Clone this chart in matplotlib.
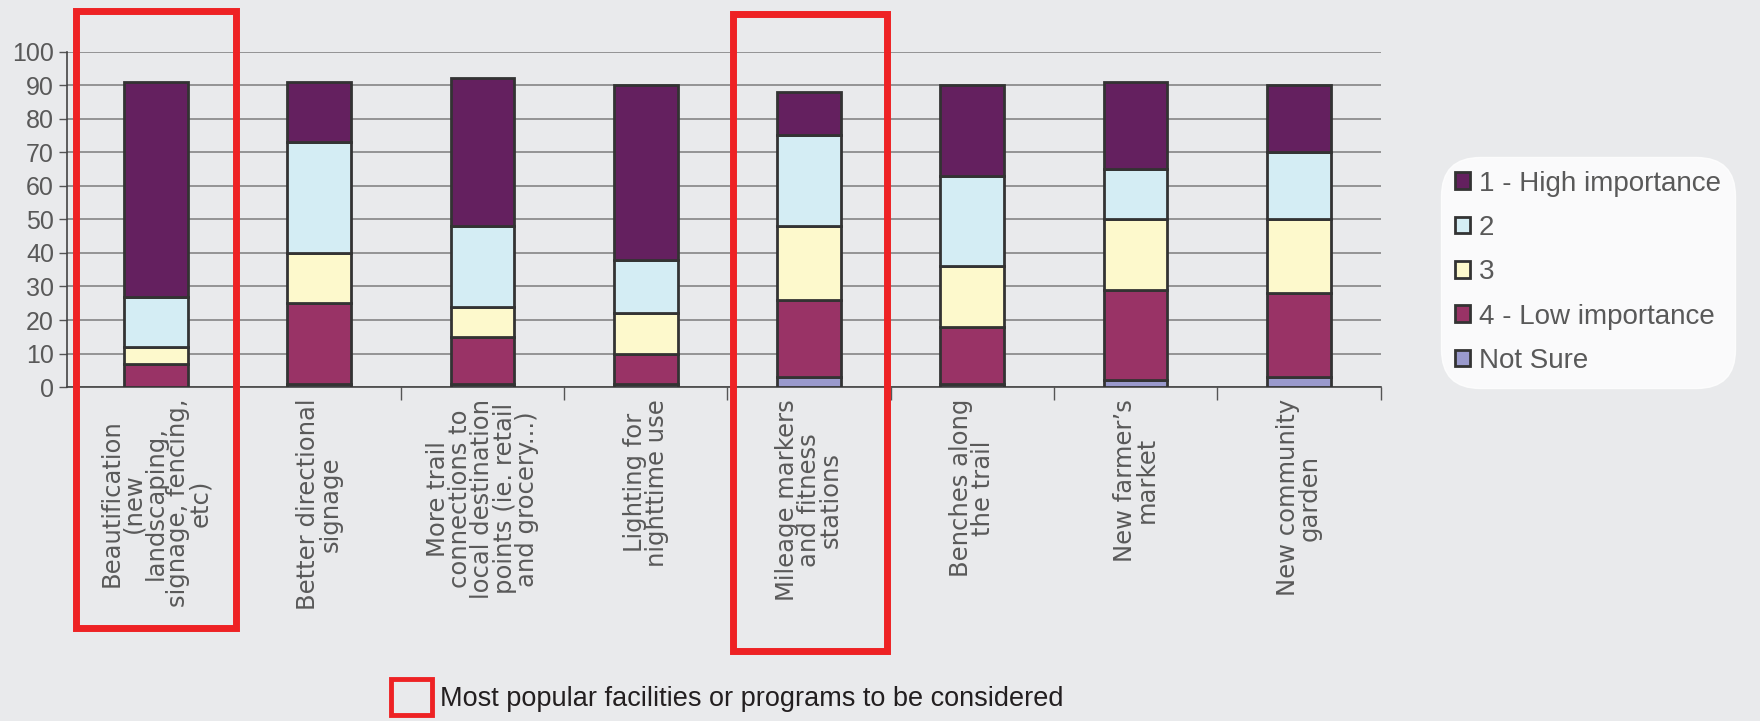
import numpy as np
import matplotlib
matplotlib.use('Agg')
from matplotlib import pyplot as plt
from matplotlib.patches import Rectangle, Patch

# Survey categories (multi-line labels as shown on the chart)
categories = [
    'Beautification\n(new\nlandscaping,\nsignage, fencing,\netc)',
    'Better directional\nsignage',
    'More trail\nconnections to\nlocal destination\npoints (ie. retail\nand grocery...)',
    'Lighting for\nnighttime use',
    'Mileage markers\nand fitness\nstations',
    'Benches along\nthe trail',
    'New farmer\u2019s\nmarket',
    'New community\ngarden',
]

# segment sizes, stacked bottom -> top
not_sure = [0, 1, 1, 1, 3, 1, 2, 3]
low_imp = [7, 24, 14, 9, 23, 17, 27, 25]
imp_3 = [5, 15, 9, 12, 22, 18, 21, 22]
imp_2 = [15, 33, 24, 16, 27, 27, 15, 20]
high_imp = [64, 18, 44, 52, 13, 27, 26, 20]

series = [
    ('Not Sure', not_sure, '#9999CC'),
    ('4 - Low importance', low_imp, '#993366'),
    ('3', imp_3, '#FDF9CC'),
    ('2', imp_2, '#D4EDF4'),
    ('1 - High importance', high_imp, '#64205F'),
]

bg = '#E9EAEC'
textcol = '#595959'
edge = '#333333'

fig = plt.figure(figsize=(17.6, 7.21), dpi=100)
fig.patch.set_facecolor(bg)
ax = fig.add_axes([0.0382, 0.463, 0.7462, 0.4655])
ax.set_facecolor(bg)

x = np.arange(len(categories))
bottom = np.zeros(len(categories))
for name, vals, col in series:
    ax.bar(x, vals, width=0.39, bottom=bottom, color=col, edgecolor=edge,
           linewidth=2, zorder=3)
    bottom += np.array(vals)

ax.set_xlim(-0.543, len(categories) - 0.5)
ax.set_ylim(0, 100)
ax.set_yticks(np.arange(0, 101, 10))
ax.yaxis.grid(True, color='#858585', linewidth=1.2, zorder=0)
ax.tick_params(axis='y', labelsize=18, labelcolor=textcol, color='#555555',
               length=6, width=1)
for lab in ax.get_yticklabels():
    lab.set_family('Liberation Sans')

ax.set_xticks(np.arange(0.5, len(categories)))
ax.set_xticklabels([])
ax.tick_params(axis='x', length=9, color='#555555', width=1)
for i, cat in enumerate(categories):
    ax.text(i, -3.5, cat, rotation=90, ha='center', va='top',
            multialignment='center', fontsize=17.5, color=textcol,
            family='DejaVu Sans', linespacing=0.9)

for s in ['top', 'right']:
    ax.spines[s].set_visible(False)
ax.spines['left'].set_color('#444444')
ax.spines['bottom'].set_color('#444444')
ax.spines['left'].set_linewidth(1.2)
ax.spines['bottom'].set_linewidth(1.2)

# legend, top series first
handles = [Patch(facecolor=col, edgecolor=edge, linewidth=2, label=name)
           for name, vals, col in series[::-1]]
leg = fig.legend(handles=handles, loc='upper left',
                 bbox_to_anchor=(0.822, 0.775), frameon=True, fancybox=True,
                 prop={'family': 'Liberation Sans', 'size': 20},
                 labelcolor=textcol, handlelength=0.55, handleheight=0.55,
                 handletextpad=0.3, labelspacing=0.66, borderpad=0.3,
                 borderaxespad=0)
leg.get_frame().set_facecolor('white')
leg.get_frame().set_edgecolor('white')
leg.get_frame().set_boxstyle('round,pad=0.2,rounding_size=1.4')

# red highlight boxes around the most popular categories
red = '#EE2224'
fig.add_artist(Rectangle((0.0431, 0.129), 0.0908, 0.856, transform=fig.transFigure,
                         fill=False, edgecolor=red, linewidth=5))
fig.add_artist(Rectangle((0.4165, 0.097), 0.0873, 0.884, transform=fig.transFigure,
                         fill=False, edgecolor=red, linewidth=5))

# footnote key
fig.add_artist(Rectangle((0.2222, 0.008), 0.0233, 0.05, transform=fig.transFigure,
                         fill=False, edgecolor=red, linewidth=3.5))
fig.text(0.25, 0.03, 'Most popular facilities or programs to be considered',
         fontsize=19.5, color='#231F20', family='Liberation Sans',
         va='center', ha='left')

fig.savefig('out.png', dpi=100, facecolor=bg)
